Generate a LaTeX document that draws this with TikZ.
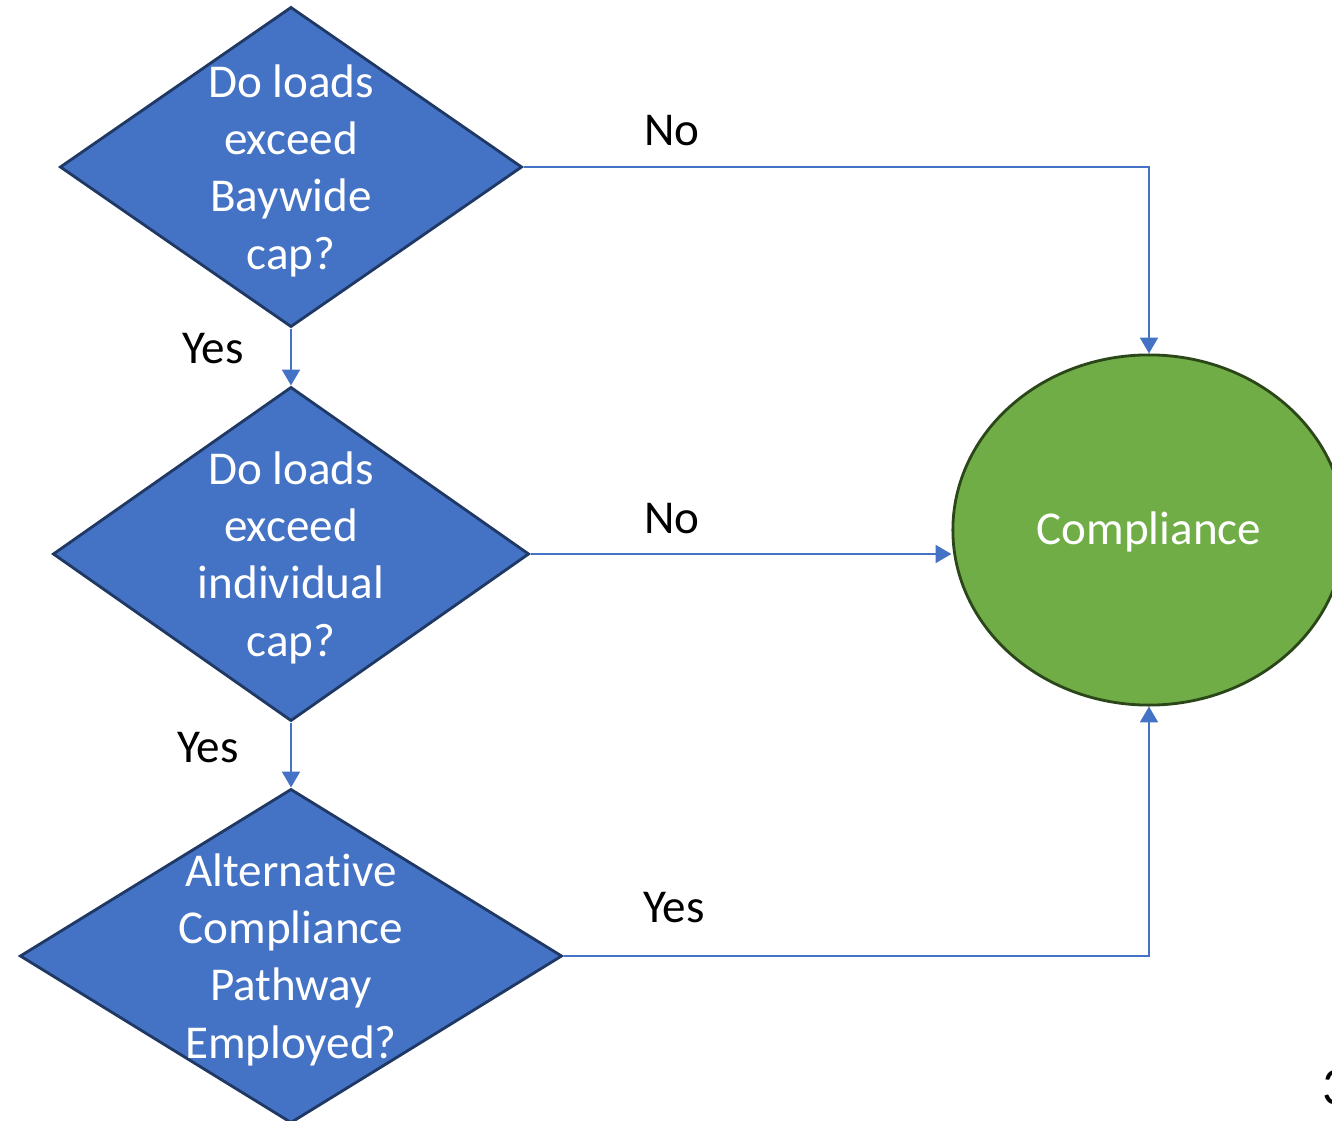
\documentclass[tikz,border=0pt]{standalone}
\usepackage{fontspec}
\setmainfont{Carlito}[Ligatures=NoCommon]
\usepackage{xcolor}
\usepackage{tikz}
\usetikzlibrary{shapes.geometric,arrows.meta}
\definecolor{boxblue}{HTML}{4472C4}
\definecolor{boxedge}{HTML}{1F3864}
\definecolor{okgreen}{HTML}{70AD47}
\definecolor{okedge}{HTML}{2B4719}

\begin{document}
\begin{tikzpicture}[x=0.01cm,y=-0.01cm,
    decision/.style={diamond,draw=boxedge,fill=boxblue,line width=0.8pt,inner sep=0pt},
    qtext/.style={text=white,align=center,yshift=-1pt,font=\fontsize{13.4}{16.3}\selectfont},
    answer/.style={font=\fontsize{13.4}{16.2}\selectfont},
    flow/.style={draw=boxblue,line width=0.85pt,-{Triangle[length=4.5pt,width=5pt]}}]
    \useasboundingbox (0,0) rectangle (1332,1121);
    \node[decision,minimum width=4.62cm,minimum height=3.20cm,label={[qtext]center:{Do loads\\exceed\\Baywide\\cap?}}] (Q1) at (291,167) {};
    \node[decision,minimum width=4.76cm,minimum height=3.34cm,label={[qtext]center:{Do loads\\exceed\\individual\\cap?}}] (Q2) at (291,554) {};
    \node[decision,minimum width=5.42cm,minimum height=3.34cm,label={[qtext]center:{Alternative\\Compliance\\Pathway\\Employed?}}] (Q3) at (291,956) {};
    \node[ellipse,draw=okedge,fill=okgreen,line width=0.8pt,minimum width=3.92cm,minimum height=3.50cm,text=white,font=\fontsize{13.4}{16.2}\selectfont] (comp) at (1149,530) {};
    \node[text=white,font=\fontsize{13.4}{16.2}\selectfont] (complabel) at (1149,532) {Compliance};

    \draw[flow] (Q1.east) -| (comp.north);
    \draw[flow] (Q1.south) -- (Q2.north);
    \draw[flow] (Q2.east) -- (Q2.east -| comp.west);
    \draw[flow] (Q2.south) -- (Q3.north);
    \draw[flow] (Q3.east) -| (comp.south);

    \node[answer] (no1) at (672,131) {No};
    \node[answer] (yes1) at (213,349) {Yes};
    \node[answer] (no2) at (672,519) {No};
    \node[answer] (yes2) at (208,748) {Yes};
    \node[answer] (yes3) at (674,908) {Yes};
    \node[font=\fontsize{15}{18}\selectfont,anchor=west,inner sep=0pt] (pagenum) at (1322,1088) {3};
\end{tikzpicture}
\end{document}
